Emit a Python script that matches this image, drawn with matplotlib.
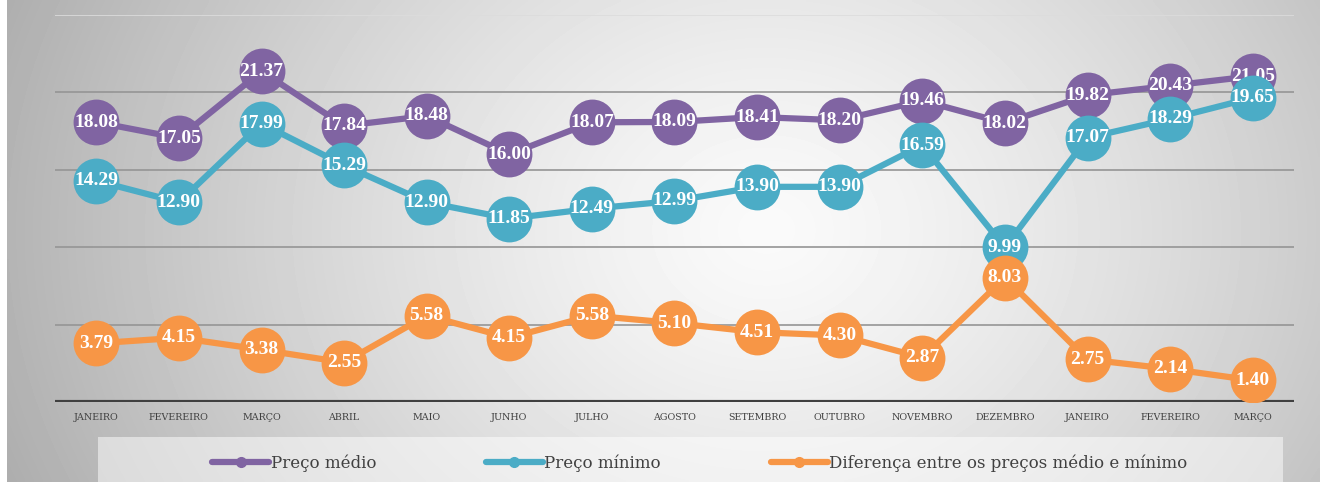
import matplotlib.pyplot as plt
import numpy as np
from matplotlib.lines import Line2D
from matplotlib.patches import Rectangle

# Data
meses = ['JANEIRO', 'FEVEREIRO', 'MARÇO', 'ABRIL', 'MAIO', 'JUNHO', 'JULHO',
         'AGOSTO', 'SETEMBRO', 'OUTUBRO', 'NOVEMBRO', 'DEZEMBRO',
         'JANEIRO', 'FEVEREIRO', 'MARÇO']
preco_medio = [18.08, 17.05, 21.37, 17.84, 18.48, 16.00, 18.07, 18.09,
               18.41, 18.20, 19.46, 18.02, 19.82, 20.43, 21.05]
preco_minimo = [14.29, 12.90, 17.99, 15.29, 12.90, 11.85, 12.49, 12.99,
                13.90, 13.90, 16.59, 9.99, 17.07, 18.29, 19.65]
diferenca = [3.79, 4.15, 3.38, 2.55, 5.58, 4.15, 5.58, 5.10,
             4.51, 4.30, 2.87, 8.03, 2.75, 2.14, 1.40]

series = [
    ('Preço médio', preco_medio, '#8064A2'),
    ('Preço mínimo', preco_minimo, '#4BACC6'),
    ('Diferença entre os preços médio e mínimo', diferenca, '#F79646'),
]

plt.rcParams['font.family'] = ['DejaVu Serif']

fig = plt.figure(figsize=(13.2, 4.82), dpi=100)

# radial gradient background
bg = fig.add_axes([7 / 1320, 0, 1 - 7 / 1320, 1], zorder=-10)
gx, gy = np.meshgrid(np.linspace(0, 1313, 400), np.linspace(0, 482, 150))
r = np.sqrt(((gx - 760) / 780.0) ** 2 + ((gy - 230) / 650.0) ** 2)
shade = np.clip(250 - 72 * r ** 1.3, 0, 255) / 255.0
bg.imshow(shade, cmap='gray', vmin=0, vmax=1, aspect='auto',
          extent=[0, 1, 0, 1], interpolation='bilinear')
bg.set_axis_off()

# legend box
fig.patches.append(Rectangle((98 / 1320, 0), (1283 - 98) / 1320, 45 / 482,
                             transform=fig.transFigure, facecolor='white',
                             alpha=0.5, edgecolor='none', zorder=-5))

ax = fig.add_axes([55 / 1320, 1 - 402 / 482, (1294 - 55) / 1320, 387 / 482])
ax.patch.set_alpha(0)

x = np.arange(len(meses))
for i, (nome, vals, cor) in enumerate(series):
    ax.plot(x, vals, color=cor, lw=4.5, marker='o', markersize=33,
            markeredgewidth=0, zorder=3 + 2 * i, solid_capstyle='round')
    for xi, v in zip(x, vals):
        ax.text(xi, v, f'{v:.2f}', ha='center', va='center', color='white',
                fontsize=14, fontweight='bold', family='Liberation Serif',
                zorder=4 + 2 * i)

ax.set_xlim(-0.5, len(meses) - 0.5)
ax.set_ylim(0, 25)
ax.set_yticks([])
for yv in [5, 10, 15, 20]:
    ax.axhline(yv, color='#959595', lw=1.2, zorder=1)
ax.axhline(25, color='#dcdcdc', lw=1.2, zorder=1)
ax.axhline(0, color='#404040', lw=3, zorder=2)

ax.set_xticks(x)
ax.set_xticklabels(meses, fontsize=6.8, color='#404040')
ax.tick_params(axis='x', length=0, pad=8)
for s in ax.spines.values():
    s.set_visible(False)

handles = [Line2D([0], [0], color=c, lw=4.5, marker='o', markersize=7,
                  solid_capstyle='round') for _, _, c in series]
fig.legend(handles, [n for n, _, _ in series], loc='center',
           bbox_to_anchor=(700 / 1320, 1 - 463 / 482), ncol=3, frameon=False,
           fontsize=12, handlelength=3.4, handletextpad=0.1,
           columnspacing=6.6, labelcolor='#404040')

fig.savefig('out.png', dpi=100)
